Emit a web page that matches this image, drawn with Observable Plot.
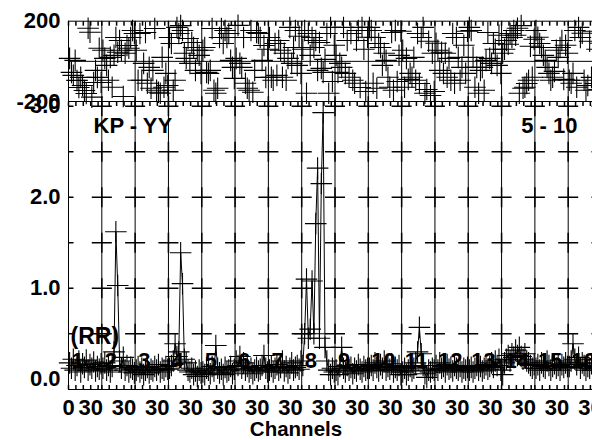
<!DOCTYPE html>
<html><head><meta charset="utf-8">
<script src="https://cdn.jsdelivr.net/npm/d3@7"></script>
<script src="https://cdn.jsdelivr.net/npm/@observablehq/plot@0.6"></script>
<style>
html,body{margin:0;padding:0;background:#fff;overflow:hidden;}
#wrap{position:relative;width:592px;height:440px;overflow:hidden;background:#fff;}
#wrap svg{position:absolute;left:0;top:0;}
#xtitle{position:absolute;left:0;top:419px;width:592px;text-align:center;font:bold 20.5px "Liberation Sans",Arial,sans-serif;line-height:20px;}
</style></head><body>
<div id="wrap"><div id="xtitle">Channels</div></div>
<script>
// ---- data ----
const ifNames = ["1","2","3","4","5","6","7","8","9","10","11","12","13","14","15","16"];
const channelsPerIF = 45;
const channels = [1.5,4,6.5,9,11.5,14,16.5,19,21.5,24,26.5,29,31.5,34,36.5,39,41.5,44];
const channelTickOffsets = [0,10,20,30,40];
const channelLabelOffset = 30;
const firstTickLabel = "0";
const channelTickLabel = "30";
const phaseTicks = [-200, 200];
const ampTicks = [0, 1, 2, 3];
const ampGridLevels = [0.5, 1, 1.5, 2, 2.5, 3];
const baselineLabel = "KP - YY";
const timeLabel = "5 - 10";
const polLabel = "(RR)";

const phaseIF1 = [15,-55,-70,5,-95,-130,-80,-120,-145,-160,165,145,-178,-105,-45,-80,65,-105];
const phaseIF2 = [55,15,-20,-94,20,-129,30,119,45,104,55,-175,40,79,65,119,154,139];
const phaseIF3 = [55,-94,139,-94,-10,144,-109,-30,-134,-45,164,-144,-154,-159,20,-129,-60,-120];
const phaseIF4 = [119,89,-144,-94,169,139,178,154,40,15,114,-10,94,69,-45,55,30,-60];
const phaseIF5 = [55,69,-55,-60,-45,164,-144,-159,-134,119,164,89,154,119,139,5,-30,-85];
const phaseIF6 = [15,179,-10,-30,119,-109,-134,-144,154,-154,-45,144,139,119,5,79,-80,60];
const phaseIF7 = [119,-79,-94,89,-70,104,55,-79,40,-94,15,169,-10,69,154,-20,125,-60];
const phaseIF8 = [60,154,-159,139,30,119,69,104,-45,94,-35,-55,10,139,-159,169,-100,80];
const phaseIF9 = [30,-55,-10,-30,169,-60,104,-79,139,-94,-109,104,154,-130,169,60,-150,120];
const phaseIF10 = [169,154,-109,119,-134,89,69,-20,40,5,-79,-129,144,-144,154,-100,30,150];
const phaseIF11 = [55,-129,15,-90,-60,-79,20,-94,139,-110,119,169,-159,-140,100,-170,40,-150];
const phaseIF12 = [90,55,-45,45,-60,40,-79,15,-94,139,-109,119,20,-94,-30,80,-60,150];
const phaseIF13 = [169,154,20,-129,-30,-159,-45,-30,-144,5,144,15,-10,89,60,-20,130,-60];
const phaseIF14 = [40,60,104,85,139,119,154,130,165,-159,178,-134,-129,-110,-94,75,-79,110];
const phaseIF15 = [154,120,89,69,30,5,-30,-60,-94,-79,-50,55,20,69,104,-90,80,40];
const phaseIF16 = [-94,-109,-60,154,-129,169,119,140,-94,-144,-120,100,-80,150,-110,60,-140,90];

const ampIF1 = [0.18,0.12,0.22,0.1,0.15,0.2,0.08,0.17,0.13,0.21,0.1,0.16,0.12,0.19,0.09,0.14,0.11,0.17];
const ampIF2 = [0.12,0.18,0.1,0.15,0.08,0.14,0.3,1.62,1.03,0.2,0.12,0.24,0.1,0.15,0.08,0.13,0.11,0.07];
const ampIF3 = [0.1,0.14,0.08,0.12,0.05,0.1,0.13,0.07,0.11,0.09,0.14,0.1,0.16,0.08,0.12,0.1,0.14,0.11];
const ampIF4 = [0.12,0.15,0.2,0.39,0.25,0.3,1.39,1.05,0.22,0.18,0.1,0.08,0.12,0.05,0.09,0.03,0.1,0.07];
const ampIF5 = [0.08,0.05,0.12,0.1,0.06,0.14,0.09,0.37,0.12,0.07,0.11,0.05,0.13,0.08,0.1,0.14,0.06,0.11];
const ampIF6 = [0.2,0.15,0.25,0.12,0.18,0.1,0.14,0.08,0.12,0.06,0.1,0.13,0.09,0.11,0.15,0.26,0.12,0.08];
const ampIF7 = [0.1,0.14,0.08,0.12,0.16,0.1,0.13,0.2,0.09,0.14,0.07,0.12,0.18,0.1,0.13,0.15,0.11,0.2];
const ampIF8 = [0.15,0.5,1.1,0.45,0.55,1.08,0.5,1.71,2.32,0.45,2.15,2.93,0.35,0.2,0.1,0.05,0.12,0.08];
const ampIF9 = [0.1,0.05,0.14,0.35,0.12,0.08,0.15,0.1,0.13,0.06,0.12,0.09,0.16,0.11,0.08,0.14,0.1,0.12];
const ampIF10 = [0.12,0.15,0.1,0.18,0.13,0.09,0.16,0.12,0.2,0.1,0.14,0.11,0.17,0.08,0.13,0.1,0.15,0.05];
const ampIF11 = [0.08,0.12,0.05,0.1,0.14,0.09,0.12,0.18,0.3,0.57,0.28,0.15,0.06,0.02,0.1,0.08,0.12,0.1];
const ampIF12 = [0.15,0.1,0.18,0.12,0.14,0.08,0.16,0.11,0.13,0.09,0.15,0.12,0.1,0.14,0.08,0.12,0.1,0.13];
const ampIF13 = [0.1,0.13,0.08,0.12,0.15,0.1,0.14,0.09,0.12,0.16,0.11,0.14,0.18,0.13,0.2,0.15,0.22,0.1];
const ampIF14 = [0.05,0.18,0.22,0.26,0.2,0.28,0.24,0.32,0.26,0.35,0.25,0.22,0.28,0.2,0.18,0.15,0.12,0.16];
const ampIF15 = [0.12,0.16,0.1,0.18,0.14,0.12,0.2,0.15,0.1,0.14,0.17,0.12,0.15,0.1,0.16,0.13,0.18,0.14];
const ampIF16 = [0.14,0.2,0.39,0.22,0.16,0.24,0.12,0.18,0.15,0.1,0.14,0.12,0.17,0.1,0.13,0.15,0.12,0.14];

// ---- tables built from the arrays ----
const phaseSeries = [phaseIF1,phaseIF2,phaseIF3,phaseIF4,phaseIF5,phaseIF6,phaseIF7,phaseIF8,phaseIF9,phaseIF10,phaseIF11,phaseIF12,phaseIF13,phaseIF14,phaseIF15,phaseIF16];
const ampSeries = [ampIF1,ampIF2,ampIF3,ampIF4,ampIF5,ampIF6,ampIF7,ampIF8,ampIF9,ampIF10,ampIF11,ampIF12,ampIF13,ampIF14,ampIF15,ampIF16];
const rows = [];
ampSeries.forEach((arr, i) => arr.forEach((v, j) => rows.push({
  ifn: ifNames[i], x: i * channelsPerIF + channels[j], amp: v, phase: phaseSeries[i][j]
})));
const nIF = ifNames.length;
const boundaries = d3.range(nIF + 1).map(i => i * channelsPerIF);
const edgeTicks = boundaries.slice(0, nIF).flatMap(b => channelTickOffsets.map(o => b + o));
const xLabels = [{x: 0, label: firstTickLabel}].concat(
  boundaries.slice(0, nIF).map(b => ({x: b + channelLabelOffset, label: channelTickLabel})));
const gridCrosses = boundaries.slice(1).flatMap(b => ampGridLevels.map(a => ({x: b, y: a})));
const leftCrosses = ampGridLevels.map(a => ({x: 0, y: a}));
const ifStarts = ifNames.map((n, i) => ({x: i * channelsPerIF, label: n}));

// ---- symbols ----
const tickDown = {draw(ctx){ ctx.moveTo(0,0); ctx.lineTo(0,4.5); }};
const tickUp = {draw(ctx){ ctx.moveTo(0,0); ctx.lineTo(0,-4.5); }};
const tickRight = {draw(ctx){ ctx.moveTo(0,0); ctx.lineTo(5,0); }};

const font = '"Liberation Sans", Arial, Helvetica, sans-serif';
const W = 610, ML = 68, MR = 9;
const xDomain = [0, nIF * channelsPerIF];

const topChart = Plot.plot({
  width: W, height: 102, marginTop: 20.7, marginBottom: 1, marginLeft: ML, marginRight: MR,
  x: {domain: xDomain, axis: null},
  y: {domain: [-200, 200], axis: null},
  style: {background: "transparent", maxWidth: "none", overflow: "visible", fontFamily: font},
  marks: [
    Plot.frame({stroke: "black"}),
    Plot.ruleY([0], {stroke: "black"}),
    Plot.ruleX(boundaries, {stroke: "black"}),
    Plot.dot(edgeTicks, {x: d => d, frameAnchor: "top", symbol: tickDown, fill: "none", stroke: "black"}),
    Plot.dot(rows, {x: "x", y: "phase", symbol: "plus", r: 7, stroke: "black", strokeWidth: 1.1}),
    Plot.text(phaseTicks, {y: d => d, text: d => String(d), frameAnchor: "left", textAnchor: "end", dx: -8,
      fontSize: 22, fontWeight: "bold", fill: "black"})
  ]
});

const botChart = Plot.plot({
  width: W, height: 420, marginTop: 101, marginBottom: 31, marginLeft: ML, marginRight: MR,
  x: {domain: xDomain, axis: null},
  y: {domain: [-0.113, 3.052], axis: null},
  style: {background: "transparent", maxWidth: "none", overflow: "visible", fontFamily: font},
  marks: [
    Plot.frame({stroke: "black"}),
    Plot.ruleX(boundaries, {stroke: "black"}),
    Plot.dot(gridCrosses, {x: "x", y: "y", symbol: "plus", r: 6.5, stroke: "black"}),
    Plot.dot(leftCrosses, {x: "x", y: "y", symbol: tickRight, fill: "none", stroke: "black"}),
    Plot.dot(edgeTicks, {x: d => d, frameAnchor: "top", symbol: tickDown, fill: "none", stroke: "black"}),
    Plot.dot(edgeTicks, {x: d => d, frameAnchor: "bottom", symbol: tickUp, fill: "none", stroke: "black"}),
    Plot.text([baselineLabel], {text: d => d, frameAnchor: "top-left", textAnchor: "start", lineAnchor: "middle",
      dx: 25, dy: 24.5, fontSize: 22, fontWeight: "bold", fill: "black"}),
    Plot.text([timeLabel], {text: d => d, frameAnchor: "top-right", textAnchor: "end", lineAnchor: "middle",
      dx: -24, dy: 24.5, fontSize: 22, fontWeight: "bold", fill: "black"}),
    Plot.line(rows, {x: "x", y: "amp", z: "ifn", stroke: "black", strokeWidth: 1}),
    Plot.dot(rows, {x: "x", y: "amp", symbol: "plus", r: 7, stroke: "black", strokeWidth: 1.1}),
    Plot.text(ifStarts, {x: "x", text: "label", frameAnchor: "bottom", textAnchor: "start", lineAnchor: "middle",
      dx: 3, dy: -29, fontSize: 22, fontWeight: "bold", fill: "black"}),
    Plot.text([polLabel], {text: d => d, frameAnchor: "bottom-left", textAnchor: "start", lineAnchor: "middle",
      dx: 2, dy: -52.5, fontSize: 23, fontWeight: "bold", fill: "black"}),
    Plot.text(ampTicks, {y: d => d, text: d => d.toFixed(1), frameAnchor: "left", textAnchor: "end", dx: -8,
      fontSize: 22, fontWeight: "bold", fill: "black"}),
    Plot.text(xLabels, {x: "x", text: "label", frameAnchor: "bottom", lineAnchor: "middle", dy: 18,
      fontSize: 22, fontWeight: "bold", fill: "black", ariaLabel: "xlab"})
  ]
});

const wrap = document.getElementById("wrap");
wrap.appendChild(topChart);
wrap.appendChild(botChart);
d3.select(botChart).selectAll('g[aria-label="xlab"] text').each(function(){
  const t = this.textContent;
  this.setAttribute("textLength", (t.length * 8.4).toFixed(1));
  this.setAttribute("lengthAdjust", "spacingAndGlyphs");
});
</script>
</body></html>
